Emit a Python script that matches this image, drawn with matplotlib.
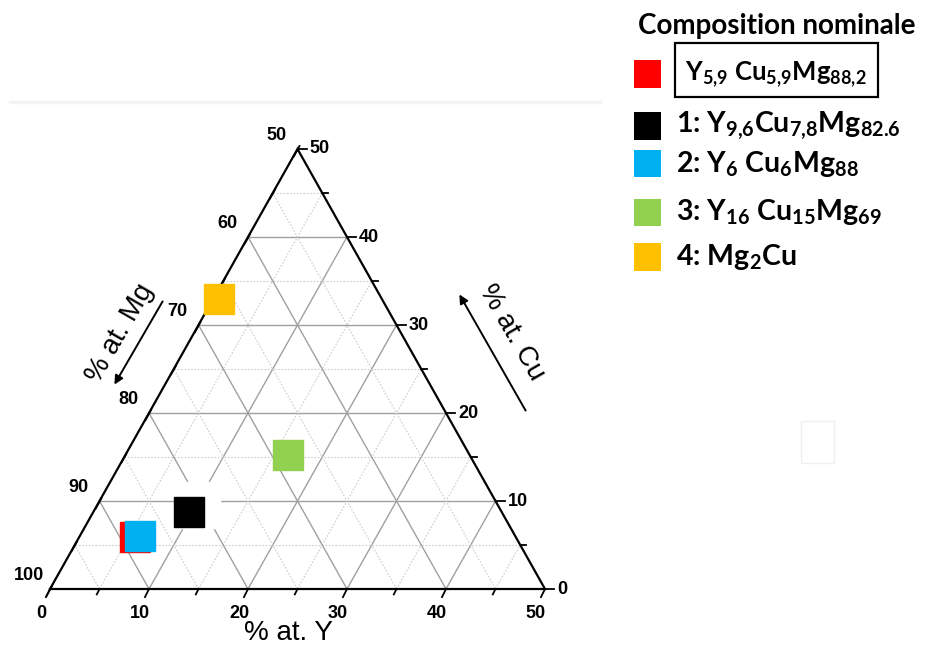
import numpy as np
import matplotlib
matplotlib.use('Agg')
import matplotlib.pyplot as plt
from matplotlib.patches import Rectangle

# compositions (at. %) as placed on the diagram: Y, Cu (Mg = 100 - Y - Cu)
names = ['nominal', '1', '2', '3', '4']
y_pct = [5.9, 9.7, 6.0, 16.4, 0.6]
cu_pct = [5.9, 8.7, 6.0, 15.2, 33.0]
colors = ['#ff0000', '#000000', '#00b0f0', '#92d050', '#ffc000']

legend_labels = [r'Y$_{5{,}9}$ Cu$_{5{,}9}$Mg$_{88{,}2}$',
                 r'1: Y$_{9{,}6}$Cu$_{7{,}8}$Mg$_{82.6}$',
                 r'2: Y$_{6}$ Cu$_{6}$Mg$_{88}$',
                 r'3: Y$_{16}$ Cu$_{15}$Mg$_{69}$',
                 r'4: Mg$_{2}$Cu']

y_ticks = [0, 10, 20, 30, 40, 50]
cu_ticks = [0, 10, 20, 30, 40, 50]
mg_ticks = [50, 60, 70, 80, 90, 100]

plt.rcParams['mathtext.fontset'] = 'custom'
plt.rcParams['mathtext.rm'] = 'Lato:bold'
plt.rcParams['mathtext.it'] = 'Lato:bold'
plt.rcParams['mathtext.bf'] = 'Lato:bold'
plt.rcParams['mathtext.default'] = 'rm'

W, H = 925, 651
fig = plt.figure(figsize=(W / 100, H / 100), dpi=100)
ax = fig.add_axes([0, 0, 1, 1])
ax.axis('off')

# triangle: Y=0 -> 50 px, Y=50 -> 545 px ; Cu=0 -> 589 px, Cu=50 -> 149 px
sx = 495 / 50
sy = 440 / 50
ax.set_xlim(-50 / sx, (W - 50) / sx)
ax.set_ylim(-(H - 589) / sy, 589 / sy)


def tern(y, cu):
    y = np.asarray(y, dtype=float)
    cu = np.asarray(cu, dtype=float)
    return y + cu / 2, cu


def px(dx, dy):
    # pixel offsets -> data units
    return dx / sx, -dy / sy


# grid
for v in range(5, 50, 5):
    if v % 10 == 0:
        style = dict(color='#a0a0a0', lw=1.0, ls='-')
    else:
        style = dict(color='#cccccc', lw=0.8, ls=(0, (1.5, 1.5)))
    # constant Cu
    x, y = tern([0, 50 - v], [v, v])
    ax.plot(x, y, zorder=1, **style)
    # constant Y
    x, y = tern([v, v], [0, 50 - v])
    ax.plot(x, y, zorder=1, **style)
    # constant Mg
    x, y = tern([v, 0], [0, v])
    ax.plot(x, y, zorder=1, **style)

# frame
x, y = tern([0, 50, 0, 0], [0, 0, 50, 0])
ax.plot(x, y, color='black', lw=1.6, zorder=3, solid_joinstyle='miter')

lab = dict(fontsize=13, fontweight='bold', family='Liberation Sans')

# bottom axis (Y)
for v in range(0, 51, 5):
    x0, y0 = tern(v, 0)
    L = 9 if v % 10 == 0 else 6
    d = px(-0.45 * L, 0.9 * L)
    ax.plot([x0, x0 + d[0]], [y0, y0 + d[1]], color='black', lw=1.3, zorder=3)
for v in y_ticks:
    x0, y0 = tern(v, 0)
    d = px(-9, 24)
    ax.text(x0 + d[0], y0 + d[1], str(v), ha='center', va='center', **lab)

# right axis (Cu)
for v in range(0, 51, 5):
    x0, y0 = tern(50 - v, v)
    L = 9 if v % 10 == 0 else 6
    d = px(L, 0)
    ax.plot([x0, x0 + d[0]], [y0, y0 + d[1]], color='black', lw=1.3, zorder=3)
for v in cu_ticks:
    x0, y0 = tern(50 - v, v)
    d = px(12, 0)
    ax.text(x0 + d[0], y0 + d[1], str(v), ha='left', va='center', **lab)

# left axis (Mg)
for m in range(50, 101, 5):
    x0, y0 = tern(0, 100 - m)
    L = 8 if m % 10 == 0 else 6
    d0 = px(2, -3)
    d = px(-0.45 * L, 0.9 * L)
    ax.plot([x0 + d0[0], x0 + d[0]], [y0 + d0[1], y0 + d[1]], color='black', lw=1.3, zorder=3)
for m in mg_ticks:
    x0, y0 = tern(0, 100 - m)
    d = px(-21, -13)
    ax.text(x0 + d[0], y0 + d[1], str(m), ha='center', va='center', **lab)

# axis titles with arrows
axl = dict(fontsize=20, family='Liberation Sans')
x0, y0 = tern(0, 0)
d = px(238, 44)
ax.text(x0 + d[0], y0 + d[1], '% at. Y', ha='center', va='center', **axl)

d = px(70, -256)
ax.text(x0 + d[0], y0 + d[1], '% at. Mg', ha='center', va='center', rotation=60,
        rotation_mode='anchor', **axl)
a0 = px(114, -290)
a1 = px(63, -202)
ax.annotate('', xy=(x0 + a1[0], y0 + a1[1]), xytext=(x0 + a0[0], y0 + a0[1]),
            arrowprops=dict(arrowstyle='-|>', color='black', lw=1.4, mutation_scale=13))

d = px(462, -256)
ax.text(x0 + d[0], y0 + d[1], '% at. Cu', ha='center', va='center', rotation=-60,
        rotation_mode='anchor', **axl)
a0 = px(477, -176)
a1 = px(408, -297)
ax.annotate('', xy=(x0 + a1[0], y0 + a1[1]), xytext=(x0 + a0[0], y0 + a0[1]),
            arrowprops=dict(arrowstyle='-|>', color='black', lw=1.4, mutation_scale=13))

# data points
xs, ys = tern(y_pct, cu_pct)
# white patch behind point 1
ax.plot(xs[1] + 0.8, ys[1] + 0.9, 's', ms=33, color='white', mec='white', zorder=2)
off = [(-0.25, 0.0), (0, 0), (0.1, 0.0), (0, 0), (0, 0)]
zs = [4, 5, 5, 5, 5]
for i in range(len(names)):
    ax.plot(xs[i] + off[i][0], ys[i] + off[i][1], 's', ms=21, color=colors[i],
            mec=colors[i], zorder=zs[i])

# faint scan artefacts
fig.add_artist(plt.Line2D([10 / W, 600 / W], [1 - 102 / H, 1 - 102 / H],
                          color='#f4f4f4', lw=2.5))
fig.add_artist(Rectangle((801 / W, 1 - 463 / H), 33 / W, 42 / H, fill=False,
                         ec='#f0f0f0', lw=1))

# legend
fig.text(777 / W, 1 - 26 / H, 'Composition nominale', ha='center', va='center',
         fontsize=20, fontweight='bold', family='Lato')
fig.add_artist(Rectangle((675 / W, 1 - 97 / H), 203 / W, 54 / H, fill=False,
                         ec='black', lw=1.6))
leg_y = [74, 126, 164, 212, 257]
leg_tx = [685, 676, 676, 676, 676]
leg_fs = [18.5, 20.5, 20.5, 20.5, 20.5]
for i in range(len(names)):
    fig.add_artist(Rectangle((634 / W, 1 - (leg_y[i] + 13.5) / H), 27 / W, 27 / H,
                             color=colors[i], lw=0))
    fig.text(leg_tx[i] / W, 1 - leg_y[i] / H, legend_labels[i], ha='left', va='center',
             fontsize=leg_fs[i], fontweight='bold', family='Lato')

fig.savefig('out.png', dpi=100)
